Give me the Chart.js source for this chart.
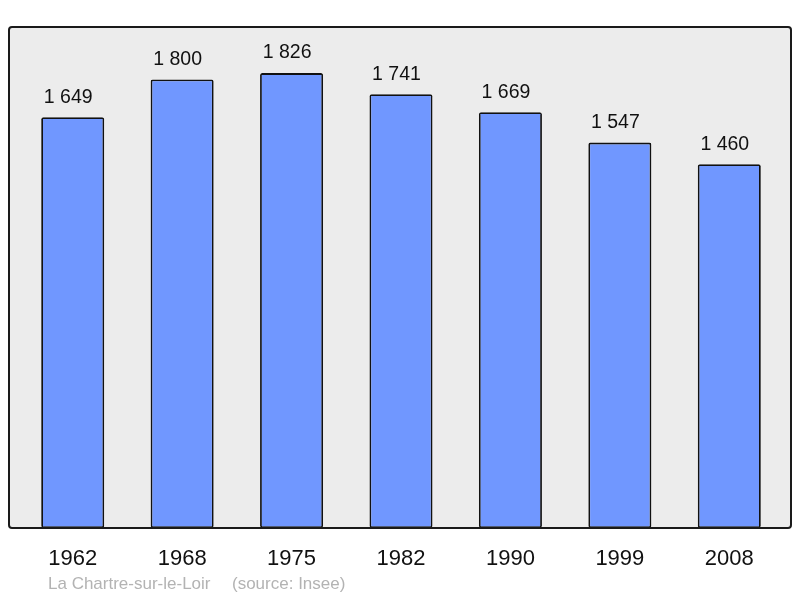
<!DOCTYPE html>
<html lang="fr">
<head>
  <meta charset="UTF-8">
  <title>La Chartre-sur-le-Loir – population</title>
  <style>
    body {
      margin: 0;
      background: #fff;
      font-family: 'Liberation Sans', Arial, sans-serif;
    }
    #wrap {
      position: relative;
      width: 800px;
      height: 598px;
    }
    .caption {
      position: absolute;
      top: 574px;
      font-size: 17px;
      color: #b3b3b3;
      white-space: nowrap;
    }
  </style>
  <script src="https://cdn.jsdelivr.net/npm/chart.js"></script>
</head>
<body>
  <div id="wrap">
    <canvas id="chart" width="800" height="598"></canvas>
    <div class="caption" style="left: 48px;">La Chartre-sur-le-Loir</div>
    <div class="caption" style="left: 232px;">(source: Insee)</div>
  </div>
  <script>
    const years = ['1962', '1968', '1975', '1982', '1990', '1999', '2008'];
    const population = [1649, 1800, 1826, 1741, 1669, 1547, 1460];

    // nombre formaté à la française : 1 649
    const fmt = n => String(n).replace(/\B(?=(\d{3})+(?!\d))/g, ' ');

    const frame = {
      id: 'frame',
      beforeDraw(chart) {
        const { ctx, chartArea } = chart;
        ctx.save();
        ctx.beginPath();
        ctx.roundRect(9, 27, 782, chartArea.bottom - 27, 3);
        ctx.fillStyle = '#ececec';
        ctx.fill();
        ctx.restore();
      },
      afterDatasetsDraw(chart) {
        const { ctx, chartArea } = chart;
        const meta = chart.getDatasetMeta(0);
        ctx.save();
        // cadre
        ctx.beginPath();
        ctx.roundRect(9, 27, 782, chartArea.bottom - 27, 3);
        ctx.lineWidth = 2;
        ctx.strokeStyle = '#1a1a1a';
        ctx.stroke();
        // valeurs au-dessus des barres
        ctx.fillStyle = '#111';
        ctx.textAlign = 'center';
        ctx.textBaseline = 'middle';
        ctx.font = '19.5px "Liberation Sans", Arial, sans-serif';
        meta.data.forEach((bar, i) => {
          ctx.fillText(fmt(population[i]), bar.x - 4.5, bar.y - 20);
        });
        // années
        ctx.font = '22px "Liberation Sans", Arial, sans-serif';
        meta.data.forEach((bar, i) => {
          ctx.fillText(years[i], bar.x, 558.5);
        });
        ctx.restore();
      }
    };

    new Chart(document.getElementById('chart'), {
      type: 'bar',
      data: {
        labels: years,
        datasets: [{
          data: population,
          backgroundColor: '#7097ff',
          borderColor: '#111',
          borderWidth: 1.8,
          borderRadius: 2,
          borderSkipped: false,
          categoryPercentage: 1,
          barPercentage: 0.576
        }]
      },
      options: {
        responsive: false,
        animation: false,
        layout: { padding: { left: 18, right: 16, top: 27, bottom: 70 } },
        scales: {
          x: { display: false },
          y: { display: false, min: 0, max: 2011 }
        },
        plugins: {
          legend: { display: false },
          tooltip: { enabled: false }
        }
      },
      plugins: [frame]
    });
  </script>
</body>
</html>
